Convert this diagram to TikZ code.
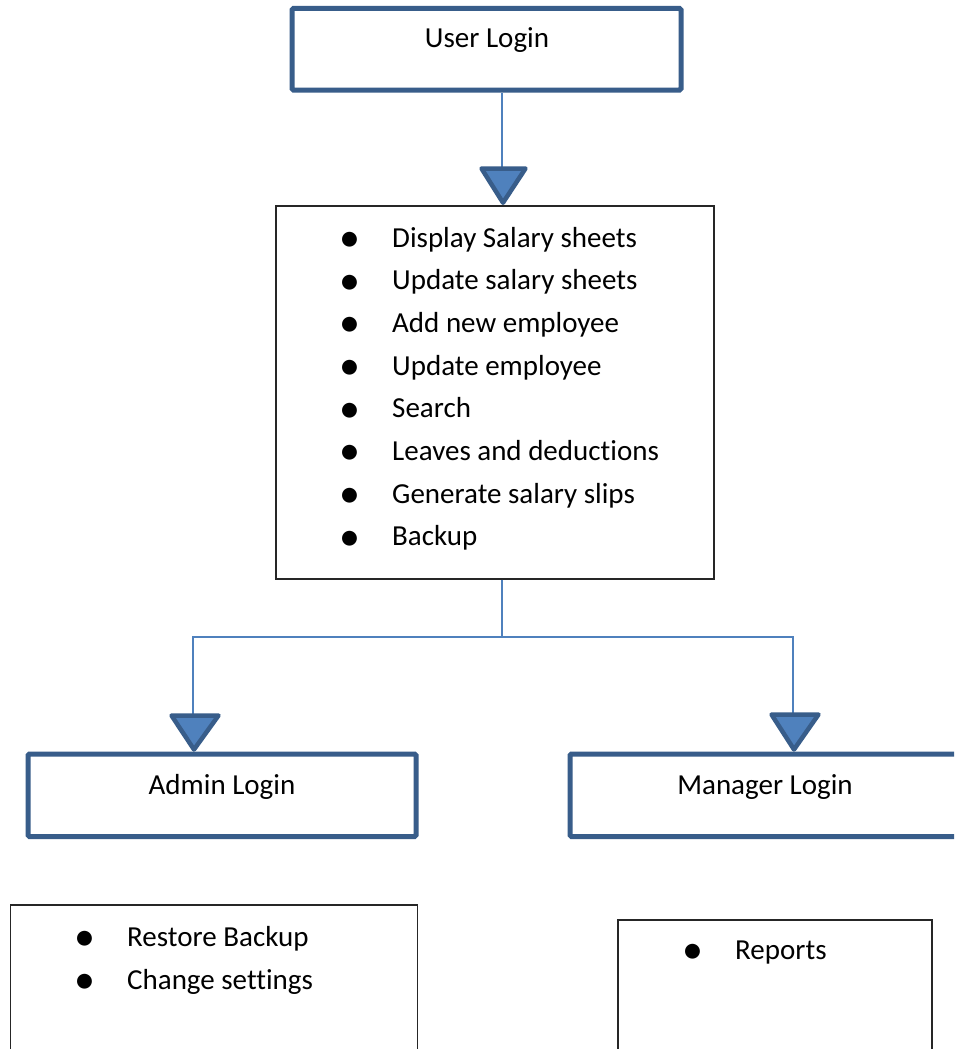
\documentclass[tikz,border=0pt]{standalone}
\usepackage{fontspec}
\setmainfont{Carlito}[RawFeature={-liga}]
\definecolor{boxblue}{HTML}{385D8A}
\definecolor{fillblue}{HTML}{4F81BD}
\definecolor{thinline}{HTML}{262626}
\tikzset{
  x=1pt, y=-1pt,
  titlebox/.style={draw=boxblue, line width=5pt, rounded corners=1.5pt, fill=white, inner sep=0pt},
  listbox/.style={draw=thinline, line width=1.3pt, fill=white, inner sep=0pt},
  conn/.style={draw=fillblue, line width=2pt},
  tri/.style={draw=boxblue, fill=fillblue, line width=4.5pt, line join=round},
  txt/.style={font=\fontsize{29}{35}\selectfont, inner sep=0pt, anchor=base west},
  ttl/.style={font=\fontsize{29}{35}\selectfont, inner sep=0pt, anchor=base},
  bul/.style={font=\fontsize{42}{46}\selectfont, inner sep=0pt, anchor=center, yshift=-3.5pt}
}
\begin{document}
\begin{tikzpicture}
\useasboundingbox (0,0) rectangle (954,1049);
\clip (0,0) rectangle (954,1049);
\fill[white] (0,0) rectangle (954,1049);

% boxes
\node[titlebox, minimum width=389pt, minimum height=81.5pt] (user) at (486.5,49.25) {};
\node[listbox, minimum width=438pt, minimum height=373pt] (main) at (495,392.5) {};
\node[titlebox, minimum width=388pt, minimum height=82.5pt] (admin) at (222,795.25) {};
\node[titlebox, minimum width=388pt, minimum height=82.5pt] (manager) at (764,795.25) {};
\node[listbox, minimum width=407pt, minimum height=160pt] (adminlist) at (214,985) {};
\node[listbox, minimum width=314pt, minimum height=145pt] (mgrlist) at (775,992.5) {};

% titles
\node[ttl] (usertxt) at (487,48) {User Login};
\node[ttl] (admintxt) at (222,794) {Admin Login};
\node[ttl] (mgrtxt) at (765,794) {Manager Login};

% main list
\foreach \t [count=\i from 0] in {Display Salary sheets,Update salary sheets,Add new employee,Update employee,Search,Leaves and deductions,Generate salary slips,Backup}{
  \node[bul] (mb\i) at (350,{238.3+42.7*\i}) {•};
  \node[txt] (mt\i) at (392,{247+42.7*\i}) {\t};
}
% admin list
\node[bul] (ab0) at (85,937) {•};
\node[txt] (at0) at (127,946) {Restore Backup};
\node[bul] (ab1) at (85,980) {•};
\node[txt] (at1) at (127,989) {Change settings};
% manager list
\node[bul] (rb0) at (693,950) {•};
\node[txt] (rt0) at (735,959) {Reports};

% connectors
\coordinate (t1) at (502,167);
\coordinate (j) at (502,637);
\coordinate (tl) at (193,714);
\coordinate (tr) at (793,713);
\draw[conn] (t1 |- user.south) -- (t1);
\draw[conn] (j |- main.south) -- (j);
\draw[conn] (tl) -- (tl |- j) -- (tr |- j) -- (tr);

% arrowheads
\draw[tri] (481.5,168.5) -- (525.5,168.5) -- (503,202.7) -- cycle;
\draw[tri] (171.5,715.5) -- (218.5,715.5) -- (194,749.5) -- cycle;
\draw[tri] (771.5,714.5) -- (818.5,714.5) -- (794,749.5) -- cycle;
\end{tikzpicture}
\end{document}
